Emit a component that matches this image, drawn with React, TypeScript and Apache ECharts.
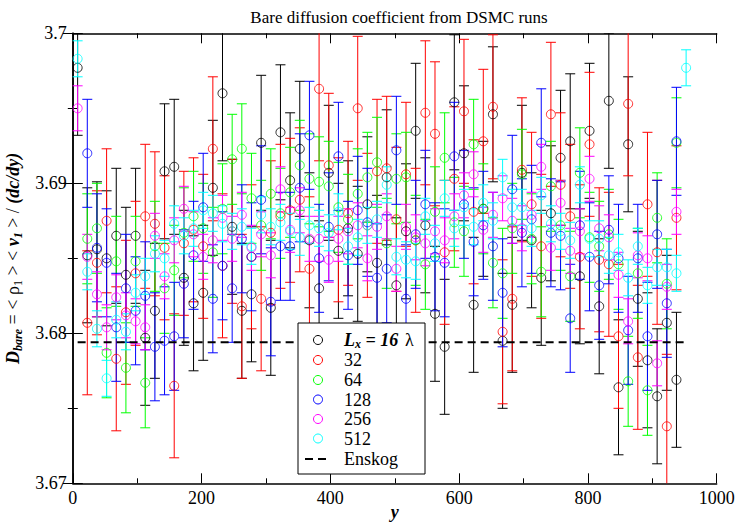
import React, { useEffect, useRef } from "react";
import * as echarts from "echarts";

// bin centres along y: x = (i + 0.5) * binWidth
const binWidth = 15;

const seriesNames = ["16", "32", "64", "128", "256", "512"];
const seriesColors = ["#000000", "#ff0000", "#00ff00", "#0000ff", "#ff00ff", "#00ffff"];
const seriesStart = [0, 1, 1, 1, 0, 0];
const seriesErr = [0.0045, 0.0048, 0.003, 0.0036, 0.0015, 0.0012];

const black = [
  3.6977, 3.6852, 3.6856, 3.685, 3.6865, 3.6839, 3.6865, 3.6797, 3.6815, 3.6908,
  3.6911, 3.6837, 3.682, 3.6827, 3.6897, 3.696, 3.6871, 3.6815, 3.6826, 3.6927,
  3.6817, 3.6934, 3.6902, 3.6923, 3.6862, 3.683, 3.6907, 3.6855, 3.687, 3.6853,
  3.6886, 3.6847, 3.6904, 3.6832, 3.6868, 3.6935, 3.6872, 3.6813, 3.6791, 3.6954,
  3.692, 3.6819, 3.6883, 3.6946, 3.6795, 3.6819, 3.6907, 3.6862, 3.6837, 3.688,
  3.6917, 3.6928, 3.6838, 3.6935, 3.6818, 3.6955, 3.6764, 3.6926, 3.6823, 3.6782,
  3.6758, 3.6807, 3.6769,
];
const red = [
  3.6807, 3.6847, 3.6875, 3.6783, 3.6814, 3.684, 3.6878, 3.6873, 3.6857,
  3.6765, 3.686, 3.6869, 3.6858, 3.6923, 3.6845, 3.6868, 3.6818, 3.6851, 3.6823,
  3.6867, 3.6878, 3.6882, 3.6889, 3.6843, 3.6963, 3.6912, 3.6869, 3.688, 3.695,
  3.6872, 3.6908, 3.691, 3.6876, 3.6906, 3.6862, 3.6947, 3.6933, 3.6854, 3.6903,
  3.6948, 3.6881, 3.6928, 3.6951, 3.6801, 3.6823, 3.6909, 3.6886, 3.6858, 3.6946,
  3.6899, 3.6878, 3.6851, 3.6926, 3.6849, 3.6846, 3.6798, 3.6953, 3.6784, 3.6886,
  3.6854, 3.6738, 3.6877,
];
const green = [
  3.6863, 3.687, 3.6787, 3.6848, 3.6777, 3.6848, 3.6767, 3.6858, 3.683,
  3.6842, 3.6867, 3.6878, 3.687, 3.6854, 3.6883, 3.6916, 3.6923, 3.689, 3.6872,
  3.6893, 3.688, 3.6894, 3.6912, 3.6903, 3.6901, 3.6898, 3.6884, 3.6876, 3.6893,
  3.6904, 3.6914, 3.686, 3.6903, 3.6904, 3.6862, 3.6846, 3.6881, 3.6917, 3.6874,
  3.6868, 3.6926, 3.6883, 3.6847, 3.684, 3.687, 3.6906, 3.6863, 3.6841, 3.6898,
  3.6872, 3.6838, 3.6907, 3.6864, 3.6858, 3.6866, 3.6846, 3.6768, 3.684, 3.6762,
  3.6877, 3.6833, 3.6927,
];
const blue = [
  3.692, 3.6857, 3.6847, 3.6804, 3.683, 3.6815, 3.6825, 3.6791, 3.6795,
  3.6798, 3.6833, 3.6852, 3.6884, 3.6823, 3.6845, 3.683, 3.6863, 3.6851, 3.6889,
  3.6821, 3.6858, 3.6858, 3.6897, 3.6932, 3.685, 3.6871, 3.6918, 3.6852, 3.6882,
  3.6874, 3.6837, 3.6843, 3.6922, 3.6823, 3.6866, 3.6886, 3.6851, 3.6847, 3.6918,
  3.6886, 3.6861, 3.6872, 3.6858, 3.6827, 3.6896, 3.6867, 3.6876, 3.6927, 3.6867,
  3.6865, 3.681, 3.6872, 3.6851, 3.6832, 3.6869, 3.685, 3.6802, 3.685, 3.6798,
  3.6866, 3.682, 3.6928,
];
const magenta = [
  3.695, 3.6851, 3.6826, 3.6804, 3.6824, 3.6812, 3.6808, 3.6804, 3.6865, 3.6838,
  3.6862, 3.6883, 3.6866, 3.6851, 3.6862, 3.6877, 3.6863, 3.6879, 3.6857, 3.6866,
  3.6852, 3.6896, 3.6869, 3.6882, 3.6863, 3.6863, 3.6849, 3.6863, 3.6868, 3.6872,
  3.685, 3.6871, 3.6878, 3.6843, 3.6871, 3.6864, 3.686, 3.6868, 3.6862, 3.6878,
  3.6892, 3.6906, 3.6869, 3.6879, 3.689, 3.6875, 3.687, 3.6879, 3.6911, 3.6857,
  3.6887, 3.6855, 3.6868, 3.6903, 3.687, 3.6864, 3.6839, 3.6808, 3.6852, 3.685,
  3.678, 3.6831, 3.6881,
];
const cyan = [
  3.6983, 3.6841, 3.6803, 3.677, 3.6809, 3.6801, 3.6827, 3.6838, 3.6853, 3.685,
  3.6873, 3.6865, 3.687, 3.6882, 3.688, 3.6873, 3.6868, 3.6871, 3.6858, 3.6879,
  3.6871, 3.6874, 3.6868, 3.6864, 3.6872, 3.687, 3.6867, 3.6881, 3.6858, 3.6864,
  3.6872, 3.6876, 3.6899, 3.6851, 3.6849, 3.6848, 3.6878, 3.686, 3.689, 3.687,
  3.6884, 3.6871, 3.6887, 3.6875, 3.6904, 3.6884, 3.6884, 3.687, 3.6892, 3.6873,
  3.6868, 3.6862, 3.6899, 3.6863, 3.6863, 3.6852, 3.6854, 3.6837, 3.6858, 3.6832,
  3.6844, 3.6844, 3.684, 3.6977,
];
const seriesValues = [black, red, green, blue, magenta, cyan];

const enskogValue = 3.6794;
const enskogRange = [7.5, 952.5];

const xTickLabels = ["0", "200", "400", "600", "800", "1000"];
const yTickLabels = ["3.67", "3.68", "3.69", "3.7"];

const FONT = "Liberation Serif";

export default function App() {
  const ref = useRef<HTMLDivElement>(null);
  useEffect(() => {
    document.body.style.margin = "0";
    const chart = echarts.init(ref.current!, null, { renderer: "svg" });

    const series: any[] = [];
    seriesValues.forEach((vals, s) => {
      const color = seriesColors[s];
      const pts = vals.map((v, k) => [(seriesStart[s] + k + 0.5) * binWidth, v]);
      series.push({
        type: "custom",
        name: seriesNames[s] + "-err",
        clip: true,
        silent: true,
        encode: { x: 0, y: [1, 2] },
        data: pts.map((p) => [p[0], p[1] - seriesErr[s], p[1] + seriesErr[s]]),
        renderItem: (params: any, api: any) => {
          const x = api.value(0);
          const top = api.coord([x, api.value(2)]);
          const bot = api.coord([x, api.value(1)]);
          const hw = 5;
          const st = { stroke: color, lineWidth: 1 };
          return {
            type: "group",
            children: [
              { type: "line", shape: { x1: top[0], y1: top[1], x2: bot[0], y2: bot[1] }, style: st },
              { type: "line", shape: { x1: top[0] - hw, y1: top[1], x2: top[0] + hw, y2: top[1] }, style: st },
              { type: "line", shape: { x1: bot[0] - hw, y1: bot[1], x2: bot[0] + hw, y2: bot[1] }, style: st },
            ],
          };
        },
      });
      series.push({
        type: "scatter",
        name: seriesNames[s],
        data: pts,
        symbol: "circle",
        symbolSize: 9,
        clip: true,
        itemStyle: { color: "rgba(0,0,0,0)", borderColor: color, borderWidth: 1 },
      });
    });
    series.push({
      type: "line",
      name: "Enskog",
      data: enskogRange.map((x) => [x, enskogValue]),
      symbol: "none",
      lineStyle: { color: "#000", width: 2, type: [8, 5] },
    });

    const axisCommon = {
      axisLine: { lineStyle: { color: "#000", width: 1.5 } },
      axisTick: { inside: true, length: 10, lineStyle: { color: "#000", width: 1 } },
      minorTick: { show: true, splitNumber: 2, length: 5, lineStyle: { color: "#000", width: 1 } },
      splitLine: { show: false },
    };

    const Z = 100;
    const legendRows = [340, 360, 380, 399.5, 419, 438.5, 459];
    const legendChildren: any[] = [
      {
        type: "rect",
        z: Z,
        shape: { x: 298, y: 323, width: 127, height: 151 },
        style: { fill: "#ffffff", stroke: "#000", lineWidth: 1 },
      },
    ];
    seriesColors.forEach((c, s) => {
      legendChildren.push({
        type: "circle",
        z: Z + 1,
        shape: { cx: 318, cy: legendRows[s], r: 4.5 },
        style: { fill: "none", stroke: c, lineWidth: 1 },
      });
      legendChildren.push({
        type: "text",
        z: Z + 1,
        x: 344,
        y: legendRows[s],
        style:
          s === 0
            ? {
                text: "{b|L}{sub|x}{b| = 16}  {n|λ}",
                verticalAlign: "middle",
                rich: {
                  b: { fontFamily: FONT, fontSize: 18, fontWeight: "bold", fontStyle: "italic", fill: "#000", lineHeight: 20 },
                  sub: { fontFamily: FONT, fontSize: 12, fontWeight: "bold", fontStyle: "italic", fill: "#000", verticalAlign: "bottom", lineHeight: 12, padding: [6, 0, 0, 0] },
                  n: { fontFamily: FONT, fontSize: 18, fill: "#000", lineHeight: 20 },
                },
              }
            : { text: seriesNames[s], fontFamily: FONT, fontSize: 18, fill: "#000", verticalAlign: "middle" },
      });
    });
    legendChildren.push({
      type: "line",
      z: Z + 1,
      shape: { x1: 305, y1: legendRows[6], x2: 331, y2: legendRows[6] },
      style: { stroke: "#000", lineWidth: 2, lineDash: [8, 5] },
    });
    legendChildren.push({
      type: "text",
      z: Z + 1,
      x: 344,
      y: legendRows[6],
      style: { text: "Enskog", fontFamily: FONT, fontSize: 18, fill: "#000", verticalAlign: "middle" },
    });

    const yNameRich = {
      b: { fontFamily: FONT, fontSize: 18, fontWeight: "bold", fontStyle: "italic", color: "#000", lineHeight: 22 },
      sub: { fontFamily: FONT, fontSize: 12, fontWeight: "bold", fontStyle: "italic", color: "#000", verticalAlign: "bottom", lineHeight: 12, padding: [7, 0, 0, 0] },
      n: { fontFamily: FONT, fontSize: 18, color: "#000", lineHeight: 22 },
      subn: { fontFamily: FONT, fontSize: 12, color: "#000", verticalAlign: "bottom", lineHeight: 12, padding: [7, 0, 0, 0] },
    };

    chart.setOption({
      animation: false,
      title: {
        text: "Bare diffusion coefficient from DSMC runs",
        left: 394,
        textAlign: "center",
        top: 4,
        textStyle: { fontFamily: FONT, fontSize: 17, fontWeight: "normal", color: "#000" },
      },
      grid: { left: 72.8, right: 20.3, top: 33.3, bottom: 38.7, outerBoundsMode: "none", containLabel: false },
      xAxis: [
        {
          type: "value",
          min: 0,
          max: 1000,
          interval: 200,
          ...axisCommon,
          axisLabel: {
            fontFamily: FONT,
            fontSize: 18,
            color: "#000",
            margin: 6,
            formatter: (v: number) => xTickLabels[Math.round(v / 200)] ?? "",
          },
          name: "y",
          nameLocation: "middle",
          nameGap: 20,
          nameMoveOverlap: false,
          nameTextStyle: { fontFamily: FONT, fontSize: 18, fontWeight: "bold", fontStyle: "italic", color: "#000" },
        },
        {
          type: "value",
          position: "top",
          min: 0,
          max: 1000,
          interval: 200,
          ...axisCommon,
          axisLabel: { show: false },
        },
      ],
      yAxis: [
        {
          type: "value",
          min: 3.67,
          max: 3.7,
          interval: 0.01,
          ...axisCommon,
          axisLabel: {
            fontFamily: FONT,
            fontSize: 18,
            color: "#000",
            margin: 6,
            formatter: (v: number) => yTickLabels[Math.round((v - 3.67) / 0.01)] ?? "",
          },
          name: "{b|D}{sub|bare}{n| = < ρ}{subn|1}{n| > < }{b|v}{sub|1}{n| > / }{b|(dc/dy)}",
          nameLocation: "middle",
          nameRotate: 90,
          nameGap: 46,
          nameTextStyle: { rich: yNameRich },
        },
        {
          type: "value",
          position: "right",
          min: 3.67,
          max: 3.7,
          interval: 0.01,
          ...axisCommon,
          axisLabel: { show: false },
        },
      ],
      series,
      graphic: legendChildren,
    });
    return () => chart.dispose();
  }, []);
  return <div ref={ref} style={{ width: 737, height: 522 }} />;
}
